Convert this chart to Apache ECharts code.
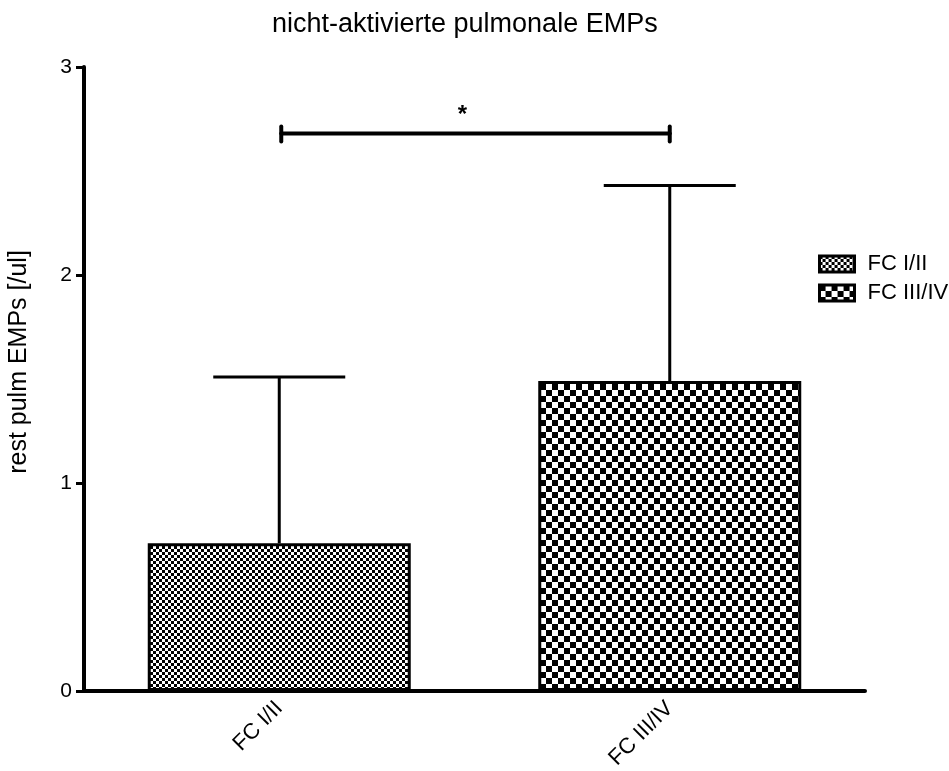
<!DOCTYPE html>
<html>
<head>
<meta charset="utf-8">
<script src="https://cdn.jsdelivr.net/npm/echarts@6/dist/echarts.min.js"></script>
<style>
  html, body { margin: 0; padding: 0; background: #fff; }
  #chart { width: 949px; height: 771px; }
</style>
</head>
<body>
<div id="chart"></div>
<script>
// Groups on the x axis
const categories = ['FC I/II', 'FC III/IV'];
// Mean rest pulmonary EMPs per group [/ul]
const meanValues = [0.71, 1.49];
// Upper end of the error bar (mean + SD)
const upperValues = [1.51, 2.43];
// Significance bracket between the two groups
const bracketLevel = [2.68];
const bracketLabel = ['*'];
// Y axis ticks
const yTicks = [0, 1, 2, 3];

const FONT = '"Liberation Sans", Arial, sans-serif';

// Checkerboard fill used for each group
function checker(cell) {
  const c = document.createElement('canvas');
  c.width = cell * 2;
  c.height = cell * 2;
  const g = c.getContext('2d');
  g.fillStyle = '#fff';
  g.fillRect(0, 0, c.width, c.height);
  g.fillStyle = '#000';
  g.fillRect(0, 0, cell, cell);
  g.fillRect(cell, cell, cell, cell);
  return c;
}
const fills = [
  { image: checker(3), repeat: 'repeat' },
  { image: checker(6), repeat: 'repeat' }
];

const barSeries = categories.map((name, i) => ({
  name: name,
  type: 'bar',
  barWidth: 263,
  barGap: '-100%',
  data: categories.map((_, j) => (j === i ? meanValues[i] : '-')),
  itemStyle: { color: fills[i], borderColor: '#000', borderWidth: 3 },
  z: 2
}));

const errorData = categories.map((_, i) => [i, meanValues[i], upperValues[i]]);

const chart = echarts.init(document.getElementById('chart'));
chart.setOption({
  animation: false,
  backgroundColor: '#fff',
  title: {
    text: 'nicht-aktivierte pulmonale EMPs',
    left: 267,
    top: 6,
    textStyle: { fontFamily: FONT, fontSize: 27, fontWeight: 'normal', color: '#000' }
  },
  legend: {
    orient: 'vertical',
    left: 818,
    top: 253,
    padding: 0,
    itemWidth: 35,
    itemHeight: 16,
    itemGap: 7,
    icon: 'rect',
    data: categories,
    itemStyle: { borderColor: '#000', borderWidth: 3 },
    textStyle: { fontFamily: FONT, fontSize: 22, lineHeight: 22, color: '#000', padding: [0, 0, 0, 8] }
  },
  grid: { left: 84, right: 84, top: 67, bottom: 80, containLabel: false, outerBoundsMode: 'none' },
  xAxis: {
    type: 'category',
    data: categories,
    axisLine: { lineStyle: { color: '#000', width: 4 } },
    axisTick: { alignWithLabel: true, length: 8, lineStyle: { color: '#000', width: 3 } },
    axisLabel: { rotate: 45, fontFamily: FONT, fontSize: 22, color: '#000', margin: 14 }
  },
  yAxis: {
    type: 'value',
    min: yTicks[0],
    max: yTicks[yTicks.length - 1],
    interval: 1,
    name: 'rest pulm EMPs [/ul]',
    nameLocation: 'middle',
    nameGap: 52,
    nameTextStyle: { fontFamily: FONT, fontSize: 25, color: '#000', padding: [0, 0, 0, 34] },
    splitLine: { show: false },
    axisLine: { show: true, lineStyle: { color: '#000', width: 4 } },
    axisTick: { show: true, length: 8, lineStyle: { color: '#000', width: 3 } },
    axisLabel: { fontFamily: FONT, fontSize: 21, color: '#000', margin: 12 }
  },
  series: barSeries.concat([
    {
      name: 'SD',
      type: 'custom',
      data: errorData,
      encode: { x: 0, y: [1, 2] },
      z: 3,
      renderItem: function (params, api) {
        const base = api.coord([api.value(0), api.value(1)]);
        const top = api.coord([api.value(0), api.value(2)]);
        const half = 66;
        const style = { stroke: '#000', lineWidth: 3 };
        return {
          type: 'group',
          children: [
            { type: 'line', shape: { x1: top[0], y1: base[1], x2: top[0], y2: top[1] }, style: style },
            { type: 'line', shape: { x1: top[0] - half, y1: top[1], x2: top[0] + half, y2: top[1] }, style: style }
          ]
        };
      }
    },
    {
      name: 'sig',
      type: 'custom',
      data: [[0, 1, bracketLevel[0]]],
      encode: { x: [0, 1], y: 2 },
      z: 3,
      renderItem: function (params, api) {
        const a = api.coord([api.value(0), api.value(2)]);
        const b = api.coord([api.value(1), api.value(2)]);
        const style = { stroke: '#000', lineWidth: 4, lineCap: 'round' };
        return {
          type: 'group',
          children: [
            { type: 'line', shape: { x1: a[0] + 2, y1: a[1], x2: b[0], y2: b[1] }, style: style },
            { type: 'line', shape: { x1: a[0] + 2, y1: a[1] - 7, x2: a[0] + 2, y2: a[1] + 8 }, style: style },
            { type: 'line', shape: { x1: b[0], y1: b[1] - 7, x2: b[0], y2: b[1] + 8 }, style: style },
            {
              type: 'text',
              style: {
                text: bracketLabel[0],
                x: (a[0] + b[0]) / 2 - 12,
                y: a[1] - 6,
                textAlign: 'center',
                textVerticalAlign: 'bottom',
                fontFamily: FONT,
                fontSize: 24,
                fontWeight: 'bold',
                fill: '#000'
              }
            }
          ]
        };
      }
    }
  ])
});
</script>
</body>
</html>
